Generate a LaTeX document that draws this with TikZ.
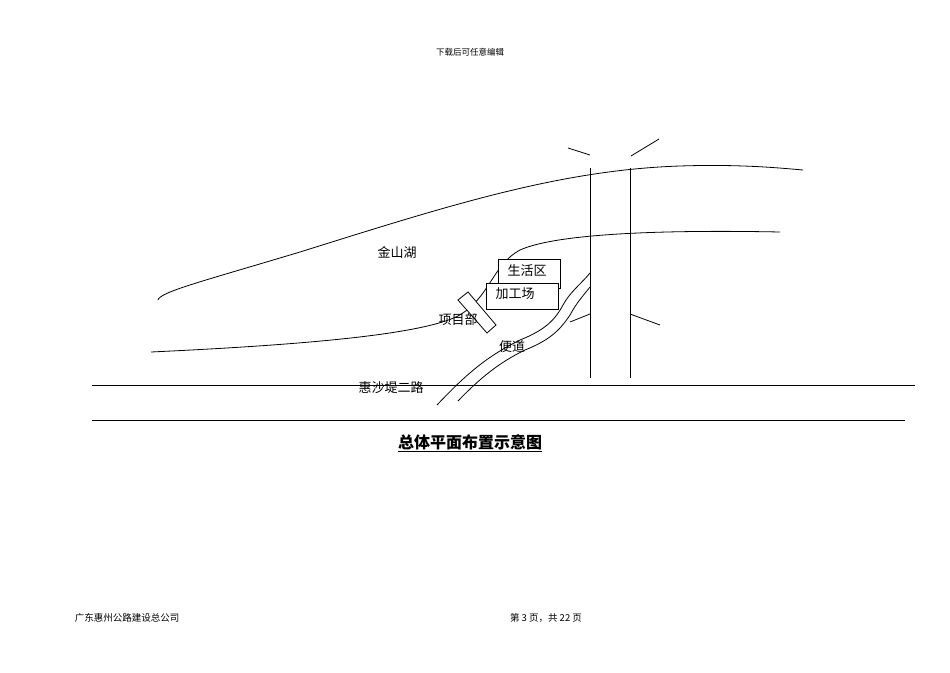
\documentclass[tikz,border=0pt]{standalone}
\usepackage{fontspec}
\setmainfont{Noto Sans CJK SC}
\begin{document}
\begin{tikzpicture}[x=1pt,y=-1pt,line width=0.8pt,
  lbl/.style={font=\fontsize{13}{13}\selectfont,inner sep=1pt},
  bx/.style={draw,fill=white,minimum width=#1,inner sep=0pt,minimum height=25pt,anchor=north west}]
\useasboundingbox (0,0) rectangle (950,672);
\node[font=\fontsize{8.5}{8.5}\selectfont] (hd) at (470,52) {下载后可任意编辑};
% lines
\draw (92,385) -- (915,385);
\draw (92,420) -- (905,420);
\draw (590,168) -- (590,378);
\draw (630,168) -- (630,378);
\draw (568,148) -- (590,155);
\draw (631,156) -- (659,139);
\draw (570,322) -- (590,314);
\draw (630,314) -- (660,325);
\draw (158,300) .. controls (160,292) and (200,282) .. (300,252) .. controls (450,205) and (560,170) .. (680,166) .. controls (740,164) and (780,168) .. (803,170);
\draw (151,352) .. controls (300,345) and (420,335) .. (458,316) .. controls (490,298) and (492,265) .. (520,250) .. controls (560,232) and (680,230) .. (780,232);
\draw (437,405) .. controls (470,370) and (490,355) .. (520,340) .. controls (545,330) and (555,320) .. (563,305) .. controls (570,292) and (580,285) .. (590,273);
\draw (458,401) .. controls (480,378) and (500,362) .. (525,350) .. controls (550,340) and (560,330) .. (570,315) .. controls (577,302) and (583,296) .. (590,287);
% boxes
\node[bx=62pt,minimum height=29pt] (sh) at (498,259) {};
\node[lbl] at (527,271) {生活区};
\node[bx=72pt,minimum height=26pt] (jg) at (486,283) {};
\node[lbl] (jgt) at (515,294) {加工场};
\draw[fill=white] (458,300) -- (468,292) -- (496,325) -- (487,333) -- cycle;
\node[lbl] (jsh) at (397,253) {金山湖};
\node[lbl] (xm) at (458,320) {项目部};
\node[lbl] (bd) at (512,347) {便道};
\node[lbl] (hs) at (391,388) {惠沙堤二路};
\node[font=\fontsize{16}{16}\selectfont\bfseries] (tt) at (470,443) {\underline{总体平面布置示意图}};
\node[font=\fontsize{9.5}{9.5}\selectfont] (fl) at (127,618) {广东惠州公路建设总公司};
\node[font=\fontsize{9.5}{9.5}\selectfont] (fr) at (546,618) {第 3 页，共 22 页};
\end{tikzpicture}
\end{document}
